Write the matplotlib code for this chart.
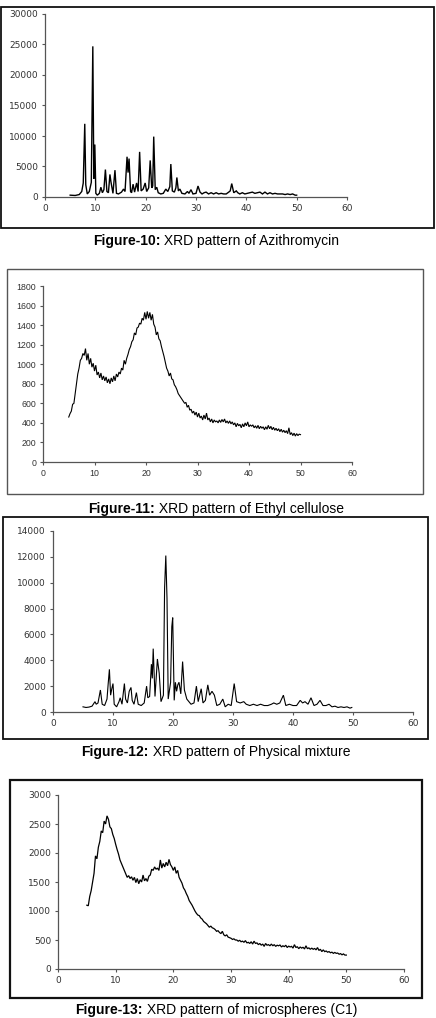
import numpy as np
import matplotlib
matplotlib.use("Agg")
import matplotlib.pyplot as plt
from matplotlib.patches import Rectangle

# ---------------- data ----------------
# Figure-10: Azithromycin (2-theta, intensity)
azi_x = [5.0, 6.0, 6.8, 7.3, 7.6, 7.9, 8.1, 8.4, 8.8, 9.2, 9.5, 9.7, 9.9, 10.1, 10.4, 10.8, 11.1, 11.4,
         11.7, 12.0, 12.3, 12.6, 12.9, 13.1, 13.5, 13.9, 14.2, 14.6, 15.2, 15.6, 15.9, 16.3, 16.5, 16.7,
         17.0, 17.2, 17.5, 17.8, 18.2, 18.5, 18.8, 19.1, 19.5, 19.9, 20.2, 20.6, 20.9, 21.2, 21.4, 21.6,
         21.9, 22.2, 22.5, 23.0, 23.5, 24.0, 24.4, 24.8, 25.0, 25.3, 25.7, 26.0, 26.2, 26.5, 26.8, 27.2,
         27.8, 28.3, 28.6, 29.0, 29.4, 30.0, 30.4, 30.8, 31.2, 31.6, 32.0, 32.5, 33.0, 33.5, 34.0, 34.5,
         35.0, 35.5, 36.0, 36.5, 36.8, 37.1, 37.5, 38.0, 38.3, 38.7, 39.2, 39.7, 40.2, 40.7, 41.2, 41.7,
         42.2, 42.7, 43.2, 43.7, 44.2, 44.7, 45.2, 45.7, 46.2, 46.7, 47.2, 47.7, 48.2, 48.7, 49.2, 49.7, 50.0]
azi_y = [300, 250, 400, 900, 2300, 12000, 2000, 500, 900, 2400, 24700, 3000, 8600, 600, 300, 600, 1600, 700,
         1200, 4500, 900, 700, 3700, 2500, 600, 4400, 600, 500, 800, 1300, 900, 6600, 4000, 6300,
         900, 700, 2100, 800, 2300, 900, 7400, 1000, 1300, 2300, 900, 1500, 6000, 1500, 1800, 9900,
         1200, 1600, 700, 500, 600, 1300, 900, 1700, 5400, 1000, 800, 1500, 3200, 1000, 1300, 600,
         500, 900, 600, 1200, 500, 600, 1800, 800, 500, 700, 800, 500, 700, 500, 700, 500,
         600, 500, 500, 800, 1000, 2200, 700, 1000, 700, 500, 700, 500, 600, 700, 800, 600,
         700, 800, 500, 800, 500, 700, 500, 600, 500, 500, 500, 400, 500, 400, 500, 300, 300]

# Figure-11: Ethyl cellulose, 2-theta 5..50 every 0.25
ec_x = np.arange(5.0, 50.001, 0.25)
ec_y = [460, 495, 520, 590,
        600, 700, 800, 900,
        960, 1040, 1060, 1110,
        1090, 1160, 1040, 1110,
        1000, 1060, 970, 1010,
        930, 990, 890, 920,
        860, 910, 840, 880,
        830, 870, 810, 850,
        800, 860, 820, 880,
        830, 900, 870, 920,
        900, 960, 940, 1040,
        1000, 1060, 1100, 1150,
        1180, 1230, 1250, 1320,
        1300, 1370, 1380, 1420,
        1410, 1470, 1450, 1530,
        1460, 1540, 1470, 1530,
        1450, 1510, 1410, 1380,
        1300, 1330, 1260, 1240,
        1180, 1130, 1080, 1020,
        960, 930, 880, 910,
        850, 840, 790, 770,
        740, 700, 680, 660,
        640, 620, 600, 610,
        560, 580, 530, 540,
        500, 520, 480, 510,
        460, 500, 450, 470,
        430, 480, 440, 500,
        430, 450, 410, 440,
        400, 430, 410, 420,
        400, 430, 405, 435,
        410, 440, 400, 420,
        395, 420, 390, 410,
        380, 400, 360, 395,
        370, 385, 350, 390,
        360, 400, 370, 410,
        360, 380, 365, 380,
        350, 370, 345, 375,
        340, 365, 345, 360,
        330, 360, 335, 375,
        340, 365, 330, 355,
        325, 345, 320, 340,
        310, 335, 305, 325,
        300, 320, 290, 350,
        280, 300, 270, 295,
        265, 290, 270, 285,
        280]

# Figure-12: Physical mixture
pm_x = [5.0, 5.5, 6.0, 6.5, 7.0, 7.2, 7.5, 7.9, 8.2, 8.6,
        9.0, 9.2, 9.4, 9.6, 9.8, 10.0, 10.2, 10.6, 11.0, 11.2,
        11.5, 11.9, 12.1, 12.4, 12.7, 13.0, 13.2, 13.5, 13.9, 14.2,
        14.7, 15.2, 15.6, 15.8, 16.1, 16.4, 16.55, 16.7, 17.0, 17.4,
        17.7, 18.0, 18.4, 18.6, 18.8, 19.0, 19.2, 19.6, 19.8, 19.95,
        20.2, 20.4, 20.6, 20.8, 21.0, 21.3, 21.6, 21.9, 22.3, 23.0,
        23.5, 23.9, 24.2, 24.7, 25.0, 25.4, 25.8, 26.1, 26.5, 26.9,
        27.3, 27.8, 28.3, 28.7, 29.2, 29.7, 30.2, 30.6, 31.2, 31.8,
        32.2, 32.8, 33.4, 34.0, 34.6, 35.2, 35.8, 36.4, 36.8, 37.3,
        37.8, 38.4, 38.8, 39.4, 40.0, 40.6, 41.2, 41.6, 42.0, 42.5,
        43.0, 43.5, 44.0, 44.5, 45.0, 45.5, 46.0, 46.5, 47.0, 47.5,
        48.0, 48.5, 49.0, 49.5, 49.8]
pm_y = [400, 350, 380, 450, 800, 600, 700, 1700, 600, 500,
        1000, 2200, 3300, 1300, 1800, 2200, 600, 400, 800, 1100,
        600, 2200, 1000, 700, 1600, 1900, 900, 600, 1500, 600,
        500, 700, 2000, 1100, 1200, 3700, 2600, 4900, 1200, 4100,
        3000, 800, 1300, 9600, 12100, 8800, 1000, 2300, 6600, 7300,
        900, 2300, 1600, 2100, 2300, 1400, 3900, 1700, 1000, 600,
        700, 2000, 800, 1800, 700, 900, 2100, 1300, 1600, 1300,
        500, 600, 1000, 400, 600, 500, 2200, 800, 700, 800,
        600, 500, 600, 500, 600, 500, 500, 600, 700, 600,
        700, 1300, 500, 600, 500, 500, 900, 700, 800, 600,
        1100, 500, 600, 900, 500, 500, 600, 400, 450, 350,
        400, 350, 400, 300, 350]

# Figure-13: Microspheres (C1), 2-theta 5..50 every 0.25
ms_x = np.arange(5.0, 50.001, 0.25)
ms_y = [1100, 1090, 1250, 1350,
        1500, 1650, 1950, 1900,
        2100, 2200, 2380, 2350,
        2550, 2500, 2640, 2580,
        2450, 2420, 2320, 2250,
        2150, 2060, 1980, 1880,
        1820, 1760, 1700, 1640,
        1580, 1610, 1560, 1590,
        1530, 1580, 1490, 1560,
        1470, 1540, 1500, 1620,
        1520, 1560, 1510, 1600,
        1620, 1720, 1700, 1760,
        1720, 1740, 1700, 1880,
        1740, 1820, 1760, 1840,
        1780, 1890, 1800, 1760,
        1700, 1760, 1650, 1700,
        1580, 1530, 1480, 1400,
        1360, 1300, 1250, 1180,
        1140, 1100, 1050, 1000,
        960, 930, 920, 880,
        860, 820, 800, 780,
        750, 720, 740, 710,
        700, 680, 650, 660,
        630, 610, 650, 590,
        570, 590, 550, 540,
        530, 510, 520, 500,
        500, 480, 495, 470,
        480, 460, 490, 450,
        460, 440, 470, 430,
        480, 440, 450, 420,
        440, 410, 430, 390,
        440, 410, 420, 400,
        430, 400, 420, 390,
        410, 400, 415, 380,
        400, 385, 410, 370,
        395, 380, 390, 360,
        420, 370, 385, 350,
        380, 360, 375, 345,
        400, 350, 365, 340,
        360, 340, 355, 330,
        370, 320, 340, 300,
        330, 300, 310, 290,
        300, 280, 290, 270,
        285, 270, 275, 255,
        265, 245, 260, 240,
        240]

x_ticks = [0, 10, 20, 30, 40, 50, 60]
captions = [("Figure-10:", " XRD pattern of Azithromycin"),
            ("Figure-11:", " XRD pattern of Ethyl cellulose"),
            ("Figure-12:", " XRD pattern of Physical mixture"),
            ("Figure-13:", " XRD pattern of microspheres (C1)")]

# ---------------- layout ----------------
W, H = 436, 1018
fig = plt.figure(figsize=(W / 100, H / 100), dpi=100)
fig.patch.set_facecolor("white")


def fr(x0, y0, x1, y1):
    """pixel box (top-left origin) -> figure fraction rect"""
    return [x0 / W, 1 - y1 / H, (x1 - x0) / W, (y1 - y0) / H]


panels = [
    dict(x=azi_x, y=azi_y, ymax=30000, ystep=5000, ax=(45, 14, 347, 197), box=(1, 7, 434, 228),
         boxc="#111111", boxlw=1.3, font="DejaVu Sans", fs=6.5, lw=1.0, base=245),
    dict(x=ec_x, y=ec_y, ymax=1800, ystep=200, ax=(43, 286, 352, 462), box=(7, 269, 423, 494),
         boxc="#555555", boxlw=1.0, font="Liberation Sans", fs=6.3, lw=0.8, base=513),
    dict(x=pm_x, y=pm_y, ymax=14000, ystep=2000, ax=(53, 531, 413, 712), box=(3, 517, 428, 739),
         boxc="#111111", boxlw=1.3, font="DejaVu Sans", fs=6.5, lw=0.8, base=756),
    dict(x=ms_x, y=ms_y, ymax=3000, ystep=500, ax=(58, 795, 404, 969), box=(10, 780, 422, 998),
         boxc="#111111", boxlw=1.6, font="DejaVu Sans", fs=6.5, lw=0.9, base=1014),
]

for p in panels:
    r = fr(*p["box"])
    fig.patches.append(Rectangle(r[:2], r[2], r[3], transform=fig.transFigure, fill=False,
                                 edgecolor=p["boxc"], linewidth=p["boxlw"], zorder=0))
    ax = fig.add_axes(fr(*p["ax"]))
    ax.plot(p["x"], p["y"], color="black", linewidth=p["lw"], solid_joinstyle="miter")
    ax.set_xlim(0, 60)
    ax.set_ylim(0, p["ymax"])
    ax.set_xticks(x_ticks)
    ax.set_yticks(np.arange(0, p["ymax"] + 1, p["ystep"]))
    ax.spines["top"].set_visible(False)
    ax.spines["right"].set_visible(False)
    for s in ("left", "bottom"):
        ax.spines[s].set_color("#555555")
        ax.spines[s].set_linewidth(0.9)
    ax.tick_params(direction="out", length=2.5, width=0.8, color="#555555",
                   labelsize=p["fs"], pad=2.5)
    for lab in ax.get_xticklabels() + ax.get_yticklabels():
        lab.set_fontfamily(p["font"])
        lab.set_color("#333333")
    ax.patch.set_alpha(0)

# captions (bold label + normal text), centred
renderer = fig.canvas.get_renderer()
for (b, n), p in zip(captions, panels):
    yb = 1 - p["base"] / H
    t1 = fig.text(0, yb, b, fontsize=10, fontweight="bold", family="Liberation Sans",
                  va="baseline", ha="left")
    t2 = fig.text(0, yb, n, fontsize=10, family="Liberation Sans", va="baseline", ha="left")
    w1 = t1.get_window_extent(renderer).width
    w2 = t2.get_window_extent(renderer).width
    start = 216 - (w1 + w2) / 2
    t1.set_x(start / W)
    t2.set_x((start + w1) / W)

fig.savefig("out.png", dpi=100, facecolor="white")
